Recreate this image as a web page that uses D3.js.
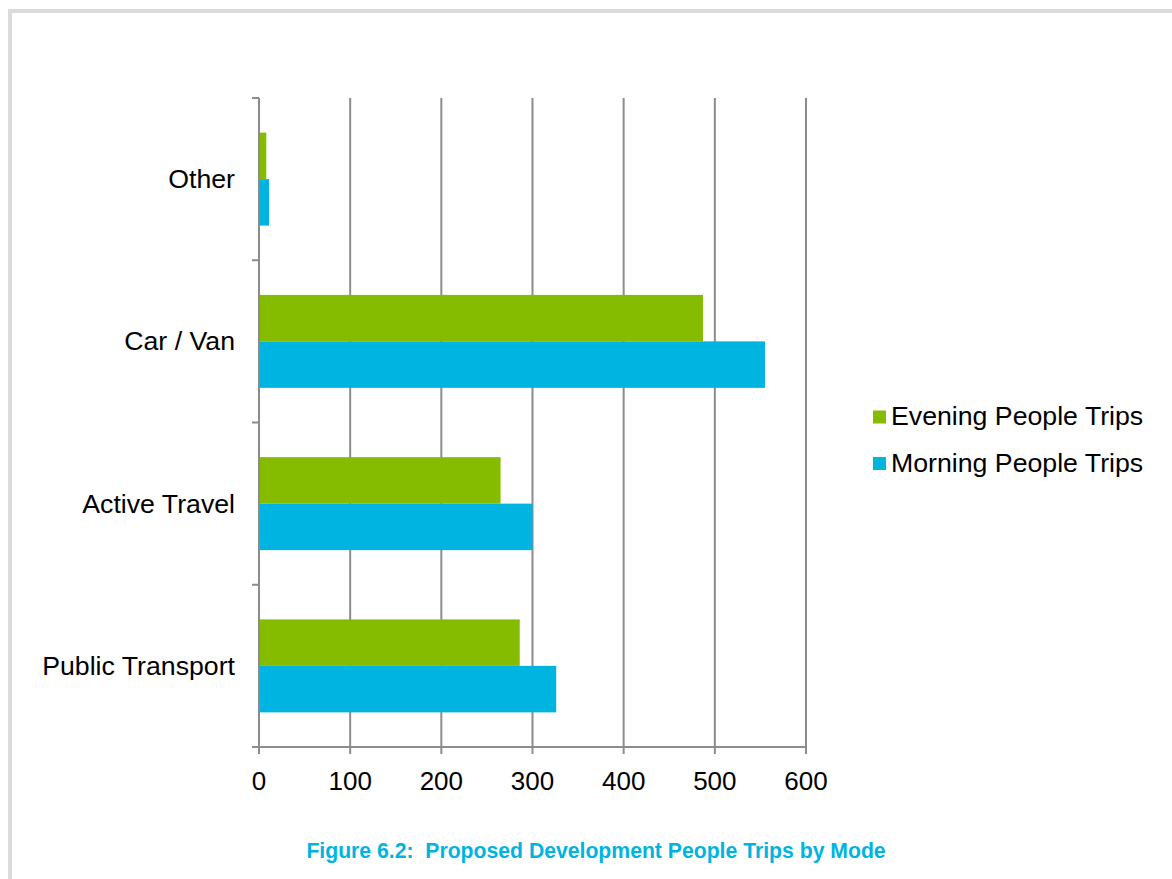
<!DOCTYPE html>
<html><head><meta charset="utf-8">
<script src="https://cdn.jsdelivr.net/npm/d3@7/dist/d3.min.js"></script>
<style>body{margin:0;background:#fff}svg{display:block}</style>
</head><body><svg id="c" width="1172" height="879"></svg>
<script>
const categories = ["Other","Car / Van","Active Travel","Public Transport"];
const seriesNames = ["Evening People Trips","Morning People Trips"];
const evening = [8, 487, 265, 286];
const morning = [11, 555, 300, 326];
const xTicks = [0,100,200,300,400,500,600];
const caption = "Figure 6.2:  Proposed Development People Trips by Mode";
const colors = ["#86bc00","#00b4e1"];

const svg = d3.select("#c");
const font = "'Liberation Sans', Arial, sans-serif";
// page frame
svg.append("rect").attr("x",10).attr("y",11).attr("width",1180).attr("height",900)
  .attr("fill","none").attr("stroke","#d9dbdc").attr("stroke-width",4);

const L=259, R=806, T=98, B=747;
const x = d3.scaleLinear().domain([0,600]).range([L,R]);
const y = d3.scaleBand().domain(categories).range([T,B]).paddingInner(0.427).paddingOuter(0.2135);
const ySub = d3.scaleBand().domain(seriesNames).range([0,y.bandwidth()]);

// gridlines
svg.append("g").selectAll("line").data(xTicks.slice(1)).join("line")
  .attr("x1",d=>x(d)).attr("x2",d=>x(d)).attr("y1",T).attr("y2",B)
  .attr("stroke","#8c8c8c").attr("stroke-width",2);

const data = categories.map((c,i)=>({c, vals:[evening[i],morning[i]]}));
const g = svg.append("g");
data.forEach(d=>{
  d.vals.forEach((v,j)=>{
    g.append("rect").attr("x",x(0)).attr("y",y(d.c)+ySub(seriesNames[j]))
     .attr("width",x(v)-x(0)).attr("height",ySub.bandwidth()).attr("fill",colors[j]);
  });
});

// axes lines
const ax = svg.append("g").attr("stroke","#8c8c8c").attr("stroke-width",2);
ax.append("line").attr("x1",L).attr("x2",L).attr("y1",T).attr("y2",B+7);
ax.append("line").attr("x1",L-7).attr("x2",R).attr("y1",B).attr("y2",B);
xTicks.forEach(t=>ax.append("line").attr("x1",x(t)).attr("x2",x(t)).attr("y1",B).attr("y2",B+7));
const cTicks = d3.range(categories.length+1).map(i=>T + i*(B-T)/categories.length);
cTicks.forEach(t=>ax.append("line").attr("x1",L-7).attr("x2",L).attr("y1",t).attr("y2",t));

// tick labels
svg.append("g").selectAll("text").data(xTicks).join("text")
  .attr("x",d=>x(d)).attr("y",790).attr("text-anchor","middle")
  .attr("font-family",font).attr("font-size",26).attr("fill","#000").text(d=>d);
svg.append("g").selectAll("text").data(categories).join("text")
  .attr("x",235).attr("y",d=>y(d)+y.bandwidth()/2+9).attr("text-anchor","end")
  .attr("font-family",font).attr("font-size",26.7).attr("fill","#000").text(d=>d);

// legend
seriesNames.forEach((s,i)=>{
  const ly = 417 + i*46.5;
  svg.append("rect").attr("x",873).attr("y",ly-6.5).attr("width",13).attr("height",13).attr("fill",colors[i]);
  svg.append("text").attr("x",891).attr("y",ly+8).attr("font-family",font).attr("font-size",26.7)
    .attr("fill","#000").text(s);
});

svg.append("text").attr("x",596).attr("y",858).attr("text-anchor","middle")
  .attr("font-family",font).attr("font-weight","bold").attr("font-size",21.2)
  .attr("fill","#00b4e1").attr("xml:space","preserve").style("white-space","pre").text(caption);
</script></body></html>
